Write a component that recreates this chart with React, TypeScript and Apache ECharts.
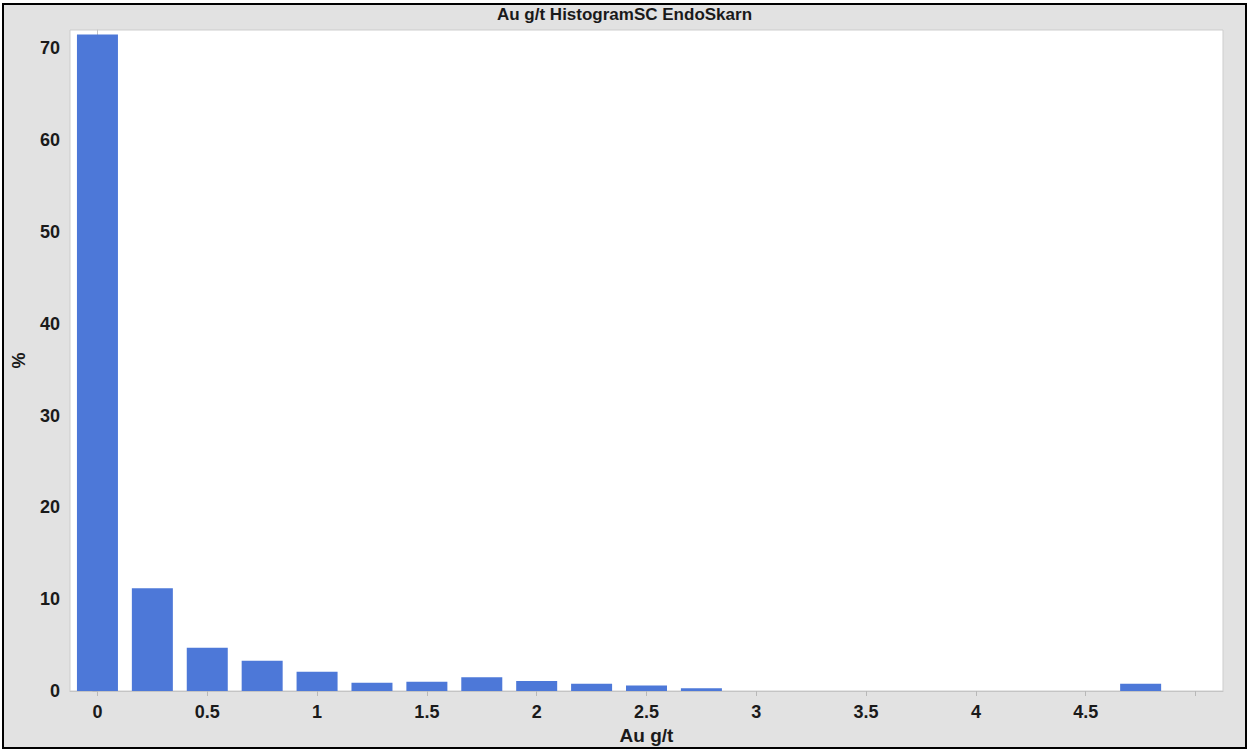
import React, { useEffect, useRef } from "react";
import * as echarts from "echarts";

// Histogram bins (centre of each 0.25 g/t bin) and their share of samples in %
const binCenters = [
  0, 0.25, 0.5, 0.75, 1, 1.25, 1.5, 1.75, 2, 2.25, 2.5, 2.75, 3, 3.25, 3.5, 3.75, 4, 4.25, 4.5, 4.75,
];
const percent = [
  71.5, 11.2, 4.7, 3.3, 2.1, 0.9, 1.0, 1.5, 1.1, 0.8, 0.6, 0.3, 0, 0, 0, 0, 0, 0, 0, 0.8,
];
const xLabelValues = [0, 0.5, 1, 1.5, 2, 2.5, 3, 3.5, 4, 4.5];
const xTickValues = [0, 0.5, 1, 1.5, 2, 2.5, 3, 3.5, 4, 4.5, 5];
const yTickValues = [0, 10, 20, 30, 40, 50, 60, 70];

const FONT = 'Arial, "Liberation Sans", sans-serif';
const W = 1249;
const H = 751;

export default function App() {
  const ref = useRef<HTMLDivElement>(null);

  useEffect(() => {
    if (!ref.current) return;
    const chart = echarts.init(ref.current, null, { renderer: "svg" });
    const labelStyle = {
      fontFamily: FONT,
      fontWeight: "bold" as const,
      fontSize: 18,
      color: "#1a1a1a",
    };
    chart.setOption({
      animation: false,
      backgroundColor: "#ffffff",
      graphic: [
        {
          type: "rect",
          z: -10,
          silent: true,
          shape: { x: 3, y: 4, width: 1243, height: 744 },
          style: { fill: "#e2e2e2", stroke: "#000000", lineWidth: 2 },
        },
      ],
      title: {
        text: "Au g/t HistogramSC EndoSkarn",
        left: "center",
        top: 1,
        textStyle: { fontFamily: FONT, fontWeight: "bold", fontSize: 17, color: "#1a1a1a" },
      },
      grid: {
        left: 70,
        top: 30,
        right: 26,
        bottom: 60,
        show: true,
        backgroundColor: "#ffffff",
        borderColor: "#cdcdcd",
        borderWidth: 1,
      },
      xAxis: {
        type: "value",
        min: -0.125,
        max: 5.125,
        name: "Au g/t",
        nameLocation: "middle",
        nameGap: 32,
        nameTextStyle: { ...labelStyle, fontSize: 19 },
        axisLine: { show: true, lineStyle: { color: "#c4c4c4" } },
        axisTick: {
          show: true,
          length: 5,
          customValues: xTickValues,
          lineStyle: { color: "#b8b8b8" },
        },
        axisLabel: {
          ...labelStyle,
          margin: 12,
          customValues: xLabelValues,
          formatter: (v: number) => String(v),
        },
        splitLine: { show: false },
      },
      yAxis: {
        type: "value",
        min: 0,
        max: 72,
        name: "%",
        nameLocation: "middle",
        nameGap: 42,
        nameRotate: 90,
        nameTextStyle: { ...labelStyle },
        axisLine: { show: true, lineStyle: { color: "#c4c4c4" } },
        axisTick: {
          show: true,
          length: 5,
          customValues: yTickValues,
          lineStyle: { color: "#b8b8b8" },
        },
        axisLabel: { ...labelStyle, margin: 10, customValues: yTickValues },
        splitLine: { show: false },
      },
      series: [
        {
          type: "bar",
          barWidth: 41,
          data: binCenters.map((c, i) => [c, percent[i]]),
          itemStyle: { color: "#4d78d8" },
        },
      ],
    });
    return () => chart.dispose();
  }, []);

  return (
    <div
      ref={ref}
      style={{ position: "fixed", left: 0, top: 0, width: W, height: H }}
    />
  );
}
